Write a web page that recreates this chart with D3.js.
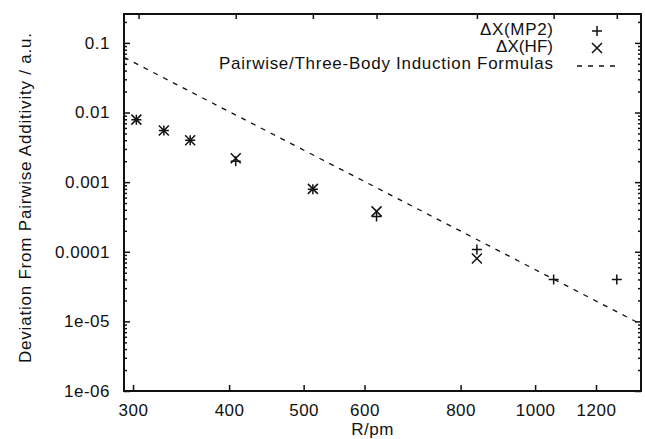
<!DOCTYPE html>
<html>
<head>
<meta charset="utf-8">
<script src="https://cdn.jsdelivr.net/npm/d3@7"></script>
<style>
  body { margin: 0; background: #fff; }
  #dataViz { width: 645px; height: 439px; }
  text { font-family: "Liberation Sans", Arial, sans-serif; fill: #111; }
</style>
</head>
<body>
<div id="dataViz"></div>
<script>
// Data (R in pm, deviation in a.u.)
const rValues = [303, 329, 356, 408, 514, 622, 840, 1057, 1277];
const mp2Values = [0.0079, 0.0055, 0.0040, 0.0020, 0.00079, 0.00032, 0.000108, 0.000040, 0.000040];
const hfRValues = [303, 329, 356, 408, 514, 622, 840];
const hfValues = [0.0079, 0.0055, 0.0040, 0.0022, 0.00080, 0.00038, 0.000080];
const formulaR = [292, 1373];
const formulaValues = [0.062, 0.0000091];

const xTicks = [300, 400, 500, 600, 800, 1000, 1200];
const topTicks = [305, 408, 514, 622, 840, 1057, 1277];
const yTicks = [1e-6, 1e-5, 1e-4, 1e-3, 1e-2, 1e-1];
const yTickLabels = ["1e-06", "1e-05", "0.0001", "0.001", "0.01", "0.1"];
const legendLabels = ["\u0394X(MP2)", "\u0394X(HF)", "Pairwise/Three-Body Induction Formulas"];

const margin = { top: 14, right: 4, bottom: 48, left: 124 };
const width = 645;
const height = 439;

const svg = d3.select("#dataViz").append("svg")
  .attr("width", width)
  .attr("height", height);

// Log scales on both axes
const xScale = d3.scaleLog()
  .domain([292, 1373])
  .range([margin.left, width - margin.right]);

const yScale = d3.scaleLog()
  .domain([1e-6, 0.26])
  .range([height - margin.bottom, margin.top]);

// minor ticks 2..9 in each decade
const minorTicks = [];
for (let e = -6; e <= -1; e++) {
  for (let m = 2; m <= 9; m++) {
    const v = m * Math.pow(10, e);
    if (v < 0.26) minorTicks.push(v);
  }
}

const fontSize = "17px";

// Bottom axis (ticks inward)
svg.append("g")
  .attr("transform", `translate(0, ${height - margin.bottom})`)
  .call(d3.axisBottom(xScale).tickValues(xTicks).tickFormat(d3.format("d")).tickSize(-6).tickPadding(13))
  .call(g => g.select(".domain").remove())
  .selectAll("text")
  .style("font-size", fontSize)
  .style("letter-spacing", "0.5px");

// Top axis, ticks at data positions
svg.append("g")
  .attr("transform", `translate(0, ${margin.top})`)
  .call(d3.axisTop(xScale).tickValues(topTicks).tickFormat("").tickSize(-5))
  .call(g => g.select(".domain").remove());

// Left axis
svg.append("g")
  .attr("transform", `translate(${margin.left}, 0)`)
  .call(d3.axisLeft(yScale).tickValues(yTicks).tickFormat((d, i) => yTickLabels[i]).tickSize(-6).tickPadding(14))
  .call(g => g.select(".domain").remove())
  .selectAll("text")
  .style("font-size", fontSize)
  .style("letter-spacing", "0.5px");

svg.append("g")
  .attr("transform", `translate(${margin.left}, 0)`)
  .call(d3.axisLeft(yScale).tickValues(minorTicks).tickFormat("").tickSize(-3))
  .call(g => g.select(".domain").remove());

// Right axis mirror
svg.append("g")
  .attr("transform", `translate(${width - margin.right}, 0)`)
  .call(d3.axisRight(yScale).tickValues(yTicks).tickFormat("").tickSize(-6))
  .call(g => g.select(".domain").remove());

svg.append("g")
  .attr("transform", `translate(${width - margin.right}, 0)`)
  .call(d3.axisRight(yScale).tickValues(minorTicks).tickFormat("").tickSize(-3))
  .call(g => g.select(".domain").remove());

svg.selectAll(".tick line").attr("stroke", "#111").attr("stroke-width", 1.5);

// Frame
svg.append("rect")
  .attr("x", margin.left)
  .attr("y", margin.top)
  .attr("width", width - margin.left - margin.right)
  .attr("height", height - margin.top - margin.bottom)
  .attr("fill", "none")
  .attr("stroke", "#111")
  .attr("stroke-width", 2);

// Dashed induction formula line
const line = d3.line()
  .x((d, i) => xScale(formulaR[i]))
  .y(d => yScale(d));

svg.append("path")
  .datum(formulaValues)
  .attr("fill", "none")
  .attr("stroke", "#111")
  .attr("stroke-width", 1.3)
  .attr("stroke-dasharray", "5,6")
  .attr("d", line);

// Marker shapes
const plusPath = "M-5,0H5M0,-5V5";
const crossPath = "M-5,-5L5,5M-5,5L5,-5";

svg.selectAll(".mp2")
  .data(mp2Values)
  .enter()
  .append("path")
  .attr("class", "mp2")
  .attr("transform", (d, i) => `translate(${xScale(rValues[i])}, ${yScale(d)})`)
  .attr("d", plusPath)
  .attr("stroke", "#111")
  .attr("stroke-width", 1.5)
  .attr("fill", "none");

svg.selectAll(".hf")
  .data(hfValues)
  .enter()
  .append("path")
  .attr("class", "hf")
  .attr("transform", (d, i) => `translate(${xScale(hfRValues[i])}, ${yScale(d)})`)
  .attr("d", crossPath)
  .attr("stroke", "#111")
  .attr("stroke-width", 1.5)
  .attr("fill", "none");

// Legend (top right, text right-aligned)
const legendX = 553;
const legendY = [35, 52, 69];
const legendWidths = [73, 57, 334];

svg.selectAll(".legend-text")
  .data(legendLabels)
  .enter()
  .append("text")
  .attr("class", "legend-text")
  .attr("x", legendX)
  .attr("y", (d, i) => legendY[i])
  .attr("textLength", (d, i) => legendWidths[i])
  .attr("lengthAdjust", "spacing")
  .style("text-anchor", "end")
  .style("font-size", fontSize)
  .text(d => d);

svg.append("path")
  .attr("transform", "translate(597, 31)")
  .attr("d", plusPath)
  .attr("stroke", "#111")
  .attr("stroke-width", 1.5);

svg.append("path")
  .attr("transform", "translate(597, 48)")
  .attr("d", crossPath)
  .attr("stroke", "#111")
  .attr("stroke-width", 1.5);

svg.append("line")
  .attr("x1", 577).attr("x2", 615)
  .attr("y1", 66).attr("y2", 66)
  .attr("stroke", "#111")
  .attr("stroke-width", 1.3)
  .attr("stroke-dasharray", "5,6");

// Axis titles
svg.append("text")
  .attr("x", xScale(600) + 8)
  .attr("y", 435)
  .style("text-anchor", "middle")
  .style("font-size", fontSize)
  .style("letter-spacing", "0.5px")
  .text("R/pm");

svg.append("text")
  .attr("transform", "rotate(-90)")
  .attr("x", -198)
  .attr("y", 31)
  .attr("textLength", 330)
  .attr("lengthAdjust", "spacing")
  .style("text-anchor", "middle")
  .style("font-size", fontSize)
  .text("Deviation From Pairwise Additivity / a.u.");
</script>
</body>
</html>
